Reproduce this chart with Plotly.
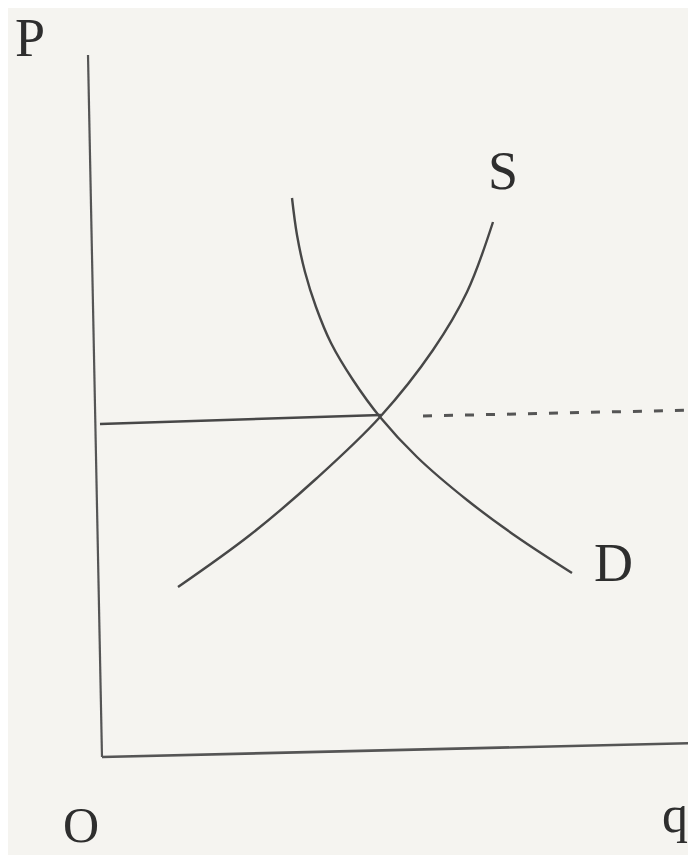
import plotly.graph_objects as go

# Supply curve S (quantity, price)
supply_q = [7.6, 14.8, 21.5, 27.8, 33.1, 36.5, 39.1]
supply_p = [17.0, 22.2, 27.9, 34.0, 40.7, 46.5, 53.5]

# Demand curve D (quantity, price)
demand_q = [19.0, 19.5, 20.3, 21.4, 22.9, 25.1, 27.8, 31.5, 36.5, 41.5, 47.0]
demand_p = [55.9, 52.2, 48.5, 45.0, 41.4, 37.7, 34.0, 30.0, 25.7, 22.0, 18.4]

# Price level line: solid part up to equilibrium, dashed part beyond
price_solid_q = [-0.2, 27.9]
price_solid_p = [33.3, 34.2]
price_dash_q = [32.1, 59.4]
price_dash_p = [34.1, 34.7]

# Axes (as drawn in the scanned figure, slightly skewed)
vaxis_q = [-1.4, 0.0]
vaxis_p = [70.2, 0.0]
haxis_q = [0.0, 59.4]
haxis_p = [0.0, 1.4]

# Labels
label_text = ["P", "O", "q", "S", "D"]
label_q = [-7.2, -2.1, 57.3, 40.1, 51.1]
label_p = [71.9, -6.8, -5.7, 58.6, 19.4]
label_size = [54, 50, 52, 54, 54]

line_col = "#474747"
text_col = "#2e2e2e"

fig = go.Figure()

fig.add_trace(go.Scatter(x=vaxis_q, y=vaxis_p, mode="lines",
                         line=dict(color="#555555", width=2.2), hoverinfo="skip"))
fig.add_trace(go.Scatter(x=haxis_q, y=haxis_p, mode="lines",
                         line=dict(color="#555555", width=2.6), hoverinfo="skip"))
fig.add_trace(go.Scatter(x=price_solid_q, y=price_solid_p, mode="lines",
                         line=dict(color=line_col, width=2.6), hoverinfo="skip"))
fig.add_trace(go.Scatter(x=price_dash_q, y=price_dash_p, mode="lines",
                         line=dict(color="#555555", width=3, dash="9px,12px"),
                         hoverinfo="skip"))
fig.add_trace(go.Scatter(x=supply_q, y=supply_p, mode="lines",
                         line=dict(color=line_col, width=2.4, shape="spline", smoothing=1.0),
                         name="S"))
fig.add_trace(go.Scatter(x=demand_q, y=demand_p, mode="lines",
                         line=dict(color=line_col, width=2.4, shape="spline", smoothing=1.0),
                         name="D"))

for t, q, p, s in zip(label_text, label_q, label_p, label_size):
    fig.add_annotation(x=q, y=p, xref="x", yref="y", text=t, showarrow=False,
                       font=dict(family="Liberation Serif", size=s, color=text_col),
                       xanchor="center", yanchor="middle")

# The page places the figure 8px from the top-left; ranges compensate for that offset
fig.update_layout(
    width=696, height=855,
    margin=dict(l=0, r=0, t=0, b=0),
    paper_bgcolor="#f5f4f0", plot_bgcolor="#f5f4f0",
    showlegend=False,
    xaxis=dict(range=[-9.4, 60.2], visible=False, fixedrange=True),
    yaxis=dict(range=[-10.6, 74.9], visible=False, fixedrange=True),
)

fig.write_html("out.html")
